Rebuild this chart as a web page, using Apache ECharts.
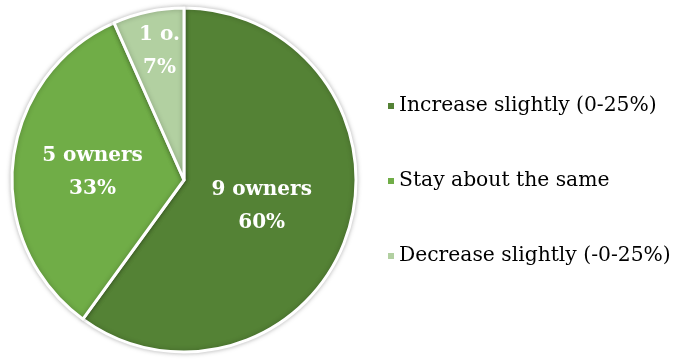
<!DOCTYPE html>
<html><head><meta charset="utf-8">
<script src="https://cdn.jsdelivr.net/npm/echarts@6/dist/echarts.min.js"></script>
<style>html,body{margin:0;padding:0;background:#fff}#c{width:678px;height:360px}</style>
</head><body><div id="c"></div>
<script>
const categories = ['Increase slightly (0-25%)', 'Stay about the same', 'Decrease slightly (-0-25%)'];
const owners = [9, 5, 1];
const sliceLabels = ['9 owners', '5 owners', '1 o.'];
const colors = ['#548235', '#70AD47', '#B2D0A1'];
const labelShift = [[-7, -1], [-3, 2], [-6, -42]];

const chart = echarts.init(document.getElementById('c'));
const total = owners.reduce((a, b) => a + b, 0);
chart.setOption({
  animation: false,
  legend: {
    orient: 'vertical',
    left: 381,
    top: 91,
    itemWidth: 8,
    itemHeight: 8,
    itemGap: 55,
    icon: 'rect',
    data: categories,
    textStyle: { fontFamily: 'DejaVu Serif', fontSize: 20.3, color: '#000', lineHeight: 20, padding: [0, 0, 0, -1] }
  },
  series: [{
    type: 'pie',
    center: [184, 180],
    radius: [0, 172],
    startAngle: 90,
    clockwise: true,
    itemStyle: { borderColor: '#fff', borderWidth: 3, shadowBlur: 5, shadowColor: 'rgba(0,0,0,0.25)' },
    label: {
      position: 'inside',
      fontFamily: 'DejaVu Serif',
      fontWeight: 'bold',
      fontSize: 20,
      lineHeight: 33,
      color: '#fff',
      formatter: p => sliceLabels[p.dataIndex] + '\n' + Math.round(p.value / total * 100) + '%'
    },
    labelLine: { show: false },
    labelLayout: p => ({ dx: labelShift[p.dataIndex][0], dy: labelShift[p.dataIndex][1] }),
    emphasis: { disabled: true },
    data: categories.map((n, i) => ({ name: n, value: owners[i], itemStyle: { color: colors[i] } }))
  }]
});
</script></body></html>
